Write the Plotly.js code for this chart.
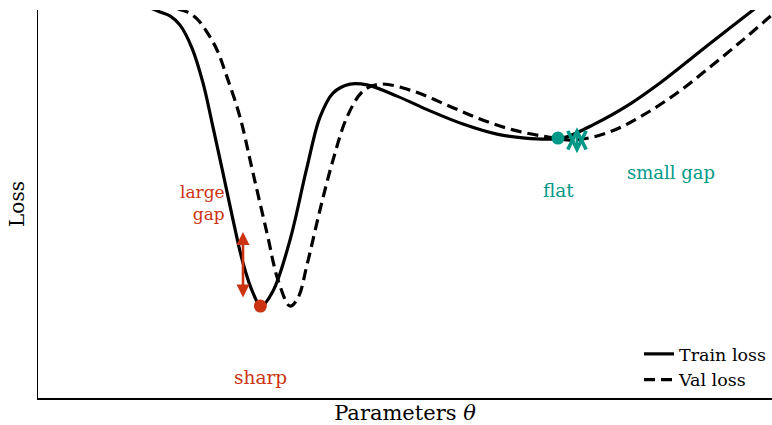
<!DOCTYPE html>
<html>
<head>
<meta charset="utf-8">
<script src="https://cdn.plot.ly/plotly-3.0.1.min.js"></script>
<style>html,body{margin:0;padding:0;background:#fff;}#chart{width:772px;height:425px;}</style>
</head>
<body>
<div id="chart"></div>
<script>
// Parameters theta (x) and loss (y)
const trainTheta = [1.499, 1.662, 1.798, 1.935, 2.098, 2.248, 2.384, 2.520, 2.657, 2.793, 2.929, 3.038, 3.202, 3.433, 3.665, 3.842, 4.019, 4.251, 4.482, 4.891, 5.341, 5.790, 6.253, 6.635, 7.044, 7.207, 7.561, 8.025, 8.474, 8.924, 9.387, 9.741, 9.905];
const trainLoss  = [1.008, 0.995, 0.985, 0.961, 0.902, 0.812, 0.698, 0.580, 0.459, 0.348, 0.271, 0.237, 0.276, 0.407, 0.595, 0.724, 0.786, 0.809, 0.807, 0.778, 0.740, 0.706, 0.680, 0.670, 0.668, 0.673, 0.704, 0.753, 0.812, 0.879, 0.948, 1.000, 1.026];
const valTheta = [1.907, 2.030, 2.166, 2.302, 2.439, 2.575, 2.752, 2.929, 3.120, 3.270, 3.433, 3.542, 3.665, 3.842, 4.019, 4.210, 4.428, 4.659, 5.109, 5.572, 6.022, 6.471, 6.935, 7.316, 7.793, 8.243, 8.706, 9.155, 9.605, 10.0, 10.177];
const valLoss  = [1.003, 0.995, 0.977, 0.943, 0.897, 0.827, 0.724, 0.580, 0.425, 0.304, 0.237, 0.258, 0.343, 0.485, 0.613, 0.724, 0.791, 0.809, 0.791, 0.755, 0.719, 0.691, 0.673, 0.665, 0.686, 0.729, 0.786, 0.853, 0.923, 0.987, 1.013];
const seriesNames = ["Train loss", "Val loss"];

// Highlighted minima
const sharpMin = {theta: 3.030, loss: 0.237};
const flatMin  = {theta: 7.084, loss: 0.670};
// Gap arrows: theta, lower and upper end of the double arrow
const largeGap = {theta: 2.793, low: 0.258, high: 0.428};
const smallGap = {theta: 7.343, low: 0.631, high: 0.698, mid: 0.665};

const RED = "#cc3311", TEAL = "#009988";
const FONT = "DejaVu Serif, Liberation Serif, serif";

const traces = [
  {x: trainTheta, y: trainLoss, mode: "lines", name: seriesNames[0],
   line: {color: "#000", width: 3.2, shape: "spline", smoothing: 1}},
  {x: valTheta, y: valLoss, mode: "lines", name: seriesNames[1],
   line: {color: "#000", width: 3.2, shape: "spline", smoothing: 1, dash: "11px,6px"}},
  {x: [sharpMin.theta], y: [sharpMin.loss], mode: "markers", showlegend: false,
   marker: {color: RED, size: 13}},
  {x: [flatMin.theta], y: [flatMin.loss], mode: "markers", showlegend: false,
   marker: {color: TEAL, size: 13}}
];

function arrow(x, yTip, yTail, color, head, size, width, both) {
  return {x: x, y: yTip, ax: x, ay: yTail, xref: "x", yref: "y", axref: "x", ayref: "y",
    text: "", font: {size: 1}, borderpad: 0, showarrow: true,
    arrowside: both ? "end+start" : "end", arrowhead: head, startarrowhead: head,
    arrowsize: size, startarrowsize: size, arrowwidth: width, arrowcolor: color};
}

const layout = {
  width: 772, height: 425,
  margin: {l: 38, r: 0, t: 10, b: 27},
  paper_bgcolor: "#fff", plot_bgcolor: "#fff",
  font: {family: FONT, color: "#000"},
  showlegend: true,
  legend: {x: 1, xanchor: "right", y: 0.0, yanchor: "bottom", bgcolor: "rgba(0,0,0,0)",
           font: {size: 17.5, family: FONT}, itemwidth: 30, tracegroupgap: 0},
  xaxis: {range: [0, 10], showgrid: false, zeroline: false, showticklabels: false, ticks: "",
          showline: true, linecolor: "#000", linewidth: 1.5,
          title: {text: "Parameters <i>θ</i>", font: {size: 21, family: FONT}, standoff: 8}},
  yaxis: {range: [0, 1], showgrid: false, zeroline: false, showticklabels: false, ticks: "",
          showline: true, linecolor: "#000", linewidth: 1.5,
          title: {text: "Loss", font: {size: 20, family: FONT}, standoff: 6}},
  annotations: [
    arrow(largeGap.theta, largeGap.high, largeGap.low, RED, 2, 1, 2.6, true),
    arrow(smallGap.theta, smallGap.high, smallGap.mid - 0.006, TEAL, 5, 1.5, 2.4, false),
    arrow(smallGap.theta, smallGap.low, smallGap.mid + 0.006, TEAL, 5, 1.5, 2.4, false),
    {x: 2.58, y: 0.503, xref: "x", yref: "y", text: "large<br>gap", showarrow: false,
     xanchor: "right", align: "right", font: {size: 17, color: RED, family: FONT}},
    {x: sharpMin.theta, y: 0.054, xref: "x", yref: "y", text: "sharp", showarrow: false,
     font: {size: 18.5, color: RED, family: FONT}},
    {x: 7.098, y: 0.536, xref: "x", yref: "y", text: "flat", showarrow: false,
     font: {size: 18.5, color: TEAL, family: FONT}},
    {x: 8.624, y: 0.580, xref: "x", yref: "y", text: "small gap", showarrow: false,
     font: {size: 18, color: TEAL, family: FONT}}
  ]
};

Plotly.newPlot("chart", traces, layout, {displayModeBar: false, staticPlot: true});
</script>
</body>
</html>
